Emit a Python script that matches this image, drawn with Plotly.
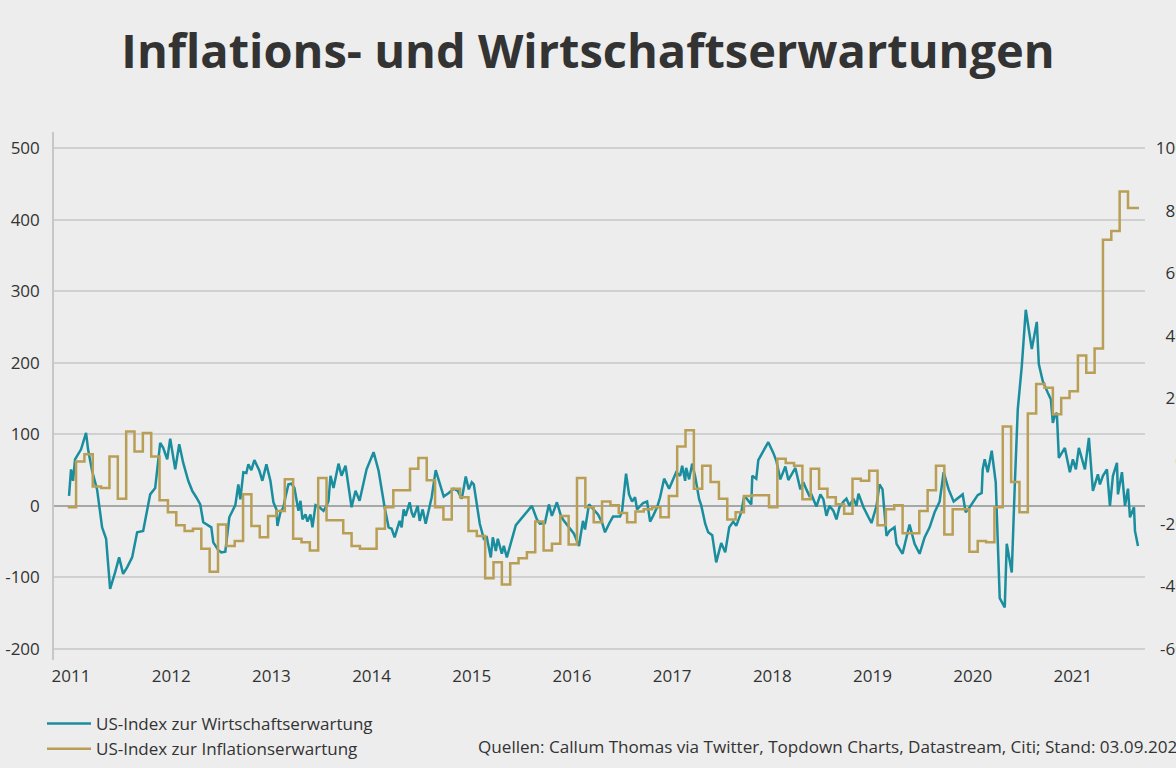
import plotly.graph_objects as go

# ---------------- data ----------------
# US-Index zur Wirtschaftserwartung (left axis), decimal years
blue_t = [2010.98, 2011.00, 2011.02, 2011.04, 2011.10, 2011.15, 2011.17, 2011.21, 2011.26, 2011.31,
          2011.35, 2011.39, 2011.44, 2011.48, 2011.52, 2011.56, 2011.61, 2011.66, 2011.72, 2011.79,
          2011.84, 2011.87, 2011.89, 2011.92, 2011.96, 2011.99, 2012.04, 2012.08, 2012.12, 2012.17,
          2012.21, 2012.25, 2012.29, 2012.32, 2012.36, 2012.40, 2012.42, 2012.47, 2012.50, 2012.54,
          2012.58, 2012.64, 2012.67, 2012.69, 2012.72, 2012.75, 2012.77, 2012.80, 2012.83, 2012.88,
          2012.91, 2012.95, 2012.99, 2013.02, 2013.05, 2013.06, 2013.09, 2013.12, 2013.14, 2013.17,
          2013.20, 2013.23, 2013.25, 2013.27, 2013.29, 2013.31, 2013.34, 2013.36, 2013.39, 2013.41,
          2013.44, 2013.48, 2013.52, 2013.55, 2013.57, 2013.59, 2013.62, 2013.67, 2013.70, 2013.74,
          2013.80, 2013.84, 2013.88, 2013.92, 2013.95, 2014.02, 2014.07, 2014.13, 2014.17, 2014.20,
          2014.23, 2014.28, 2014.30, 2014.32, 2014.34, 2014.38, 2014.40, 2014.42, 2014.46, 2014.48,
          2014.51, 2014.54, 2014.57, 2014.60, 2014.64, 2014.68, 2014.72, 2014.77, 2014.82, 2014.86,
          2014.90, 2014.92, 2014.94, 2014.97, 2015.00, 2015.02, 2015.05, 2015.08, 2015.12, 2015.15,
          2015.19, 2015.21, 2015.24, 2015.26, 2015.30, 2015.32, 2015.35, 2015.40, 2015.44, 2015.60,
          2015.65, 2015.68, 2015.73, 2015.77, 2015.80, 2015.85, 2015.89, 2015.92, 2015.97, 2016.02,
          2016.05, 2016.07, 2016.11, 2016.13, 2016.17, 2016.21, 2016.26, 2016.30, 2016.33, 2016.37,
          2016.41, 2016.48, 2016.50, 2016.54, 2016.57, 2016.60, 2016.63, 2016.65, 2016.68, 2016.71,
          2016.75, 2016.78, 2016.81, 2016.85, 2016.88, 2016.92, 2016.97, 2017.01, 2017.04, 2017.08,
          2017.10, 2017.13, 2017.14, 2017.17, 2017.20, 2017.23, 2017.27, 2017.29, 2017.33, 2017.36,
          2017.40, 2017.44, 2017.49, 2017.53, 2017.57, 2017.61, 2017.64, 2017.69, 2017.72, 2017.75,
          2017.79, 2017.80, 2017.84, 2017.86, 2017.96, 2018.01, 2018.04, 2018.08, 2018.13, 2018.16,
          2018.23, 2018.28, 2018.31, 2018.34, 2018.37, 2018.39, 2018.44, 2018.48, 2018.51, 2018.54,
          2018.57, 2018.61, 2018.64, 2018.67, 2018.71, 2018.74, 2018.77, 2018.81, 2018.84, 2018.86,
          2018.91, 2018.96, 2018.99, 2019.04, 2019.07, 2019.10, 2019.14, 2019.17, 2019.22, 2019.24,
          2019.30, 2019.37, 2019.42, 2019.47, 2019.52, 2019.57, 2019.62, 2019.67, 2019.71, 2019.76,
          2019.81, 2019.90, 2019.93, 2019.97, 2020.05, 2020.09, 2020.10, 2020.12, 2020.15, 2020.19,
          2020.23, 2020.27, 2020.32, 2020.34, 2020.39, 2020.42, 2020.45, 2020.49, 2020.53, 2020.59,
          2020.64, 2020.66, 2020.70, 2020.75, 2020.78, 2020.80, 2020.82, 2020.84, 2020.86, 2020.92,
          2020.97, 2021.00, 2021.03, 2021.06, 2021.12, 2021.16, 2021.20, 2021.25, 2021.27, 2021.30,
          2021.34, 2021.37, 2021.40, 2021.44, 2021.45, 2021.49, 2021.52, 2021.55, 2021.57, 2021.61,
          2021.62, 2021.65]
blue_v = [14, 51, 35, 65, 79, 102, 79, 49, 23, -30,
          -46, -116, -93, -72, -95, -86, -72, -37, -35, 16,
          25, 58, 88, 81, 65, 94, 51, 86, 60, 35,
          21, 12, 2, -23, -27, -30, -51, -62, -65, -64,
          -16, 1, 30, 9, 47, 46, 58, 50, 64, 49,
          35, 58, 35, 5, -5, -28, -9, -2, 12, 30,
          31, 25, 9, -7, 7, -19, -12, -22, -12, -30,
          1, -2, -7, 0, 7, 42, 25, 59, 42, 56,
          -2, 21, 7, 35, 51, 75, 49, -2, -30, -32,
          -44, -21, -30, -5, -14, 5, -9, -16, 0, -21,
          -5, -25, -7, 12, 50, 30, 13, 18, 24, 21,
          10, 25, 41, 23, 33, 30, 0, -25, -46, -44,
          -72, -44, -63, -46, -67, -56, -72, -46, -27, 0,
          -19, -25, -24, 2, -14, 5, -14, -21, -30, -39,
          -49, -56, -21, -33, 2, -4, -12, -23, -37, -25,
          -15, -15, -8, 45, 16, 6, 12, -5, 0, 4,
          6, -22, -14, -2, 12, 38, 24, 38, 47, 42,
          56, 35, 53, 37, 59, 41, 9, 1, -25, -37,
          -41, -79, -52, -65, -30, -22, -28, -9, 14, 9,
          2, 42, 38, 64, 89, 74, 63, 37, 55, 36,
          53, 23, 33, 23, 14, 16, -1, 16, 9, -14,
          0, -7, -19, -2, 6, 10, 0, 10, 0, 17,
          -2, -16, -24, 0, 30, 23, -42, -35, -30, -53,
          -67, -26, -53, -67, -44, -30, -9, 6, 47, 23,
          6, 16, -9, -2, 15, 18, 51, 65, 47, 77,
          33, -129, -142, -53, -93, 28, 135, 195, 274, 219,
          257, 198, 174, 158, 149, 116, 126, 130, 67, 81,
          47, 65, 51, 81, 51, 95, 21, 44, 30, 42,
          51, 0, 42, 60, 16, 47, 0, 24, -16, -2,
          -35, -56]

# US-Index zur Inflationserwartung (right axis), monthly values from Jan 2011
gold_v = [-14.7, -0.1, 2.2, -8.1, -8.6, 1.5, -12.0, 9.5, 3.1, 9.0,
          1.5, -12.5, -16.3, -20.5, -22.3, -21.6, -28.0, -35.3, -20.2, -27.1,
          -25.5, -10.6, -20.7, -24.3, -17.5, -15.9, -5.8, -24.8, -25.9, -28.5,
          -5.4, -18.9, -18.9, -23.0, -27.1, -28.0, -28.0, -21.6, -14.7, -9.3,
          -9.3, -2.4, 1.0, -6.1, -14.7, -18.6, -8.8, -11.5, -22.3, -23.9,
          -37.4, -32.3, -39.4, -32.6, -31.0, -29.1, -19.3, -28.5, -26.4, -17.5,
          -26.6, -5.4, -14.7, -19.5, -12.9, -14.1, -16.6, -19.5, -16.1, -15.4,
          -14.7, -17.9, -11.1, 4.7, 9.9, -8.8, -1.5, -6.7, -12.0, -18.6,
          -16.3, -11.1, -10.9, -10.9, -14.7, 0.8, -0.6, -1.5, -12.2, -2.4,
          -8.8, -11.5, -13.8, -16.8, -5.6, -6.3, -3.1, -20.5, -15.4, -14.1,
          -23.0, -23.0, -15.9, -9.3, -1.5, -23.4, -15.4, -15.4, -28.9, -25.5,
          -25.9, -14.7, 11.1, -6.7, -16.3, 15.2, 24.6, 23.4, 15.0, 20.2,
          22.3, 33.7, 28.2, 36.0, 70.7, 73.5, 86.1, 80.8]
gold_start = 2010.967
gold_end = 2021.66

years = list(range(2011, 2022))
left_ticks = [-200, -100, 0, 100, 200, 300, 400, 500]
right_ticks = [-60, -40, -20, 0, 20, 40, 60, 80, 100]

title_text = "Inflations- und Wirtschaftserwartungen"
name_blue = "US-Index zur Wirtschaftserwartung"
name_gold = "US-Index zur Inflationserwartung"
source_text = "Quellen: Callum Thomas via Twitter, Topdown Charts, Datastream, Citi; Stand: 03.09.2021"

# ---------------- figure ----------------
BG = "#ecedec"
TXT = "#333333"
FONT = "Open Sans"
FS = 17
W, H = 1176, 768
L, R, T, B = 54, 0, 132, 108
plot_right = 1145

gold_t = [gold_start + k / 12 for k in range(len(gold_v))] + [gold_end]
gold_y = gold_v + [gold_v[-1]]

fig = go.Figure()
fig.add_trace(go.Scatter(x=blue_t, y=blue_v, mode="lines", name=name_blue,
                         line=dict(color="#1a8e9f", width=2.5), yaxis="y"))
fig.add_trace(go.Scatter(x=gold_t, y=gold_y, mode="lines", name=name_gold,
                         line=dict(color="#b99e55", width=2.5, shape="hv"), yaxis="y2"))

pw = W - L - R
ph = H - T - B
fig.update_layout(
    template="none",
    width=W, height=H,
    margin=dict(l=L, r=R, t=T, b=B, pad=0, autoexpand=False),
    paper_bgcolor=BG, plot_bgcolor=BG,
    font=dict(family=FONT, size=FS, color=TXT),
    title=dict(text=title_text, x=0.5, xanchor="center", xref="container",
               y=1 - 52 / H, yanchor="middle", yref="container",
               font=dict(family=FONT, size=47, color=TXT, weight="bold")),
    xaxis=dict(domain=[0, (plot_right - L) / pw], range=[2010.83, 2021.72],
               tickvals=years, ticktext=[str(y) for y in years],
               showgrid=False, zeroline=False, showline=False, ticks="",
               ticklabelstandoff=4, automargin=False,
               tickfont=dict(family=FONT, size=FS, color=TXT)),
    yaxis=dict(range=[-215.4, 522.4], tickvals=left_ticks,
               ticktext=[str(v) for v in left_ticks],
               showgrid=True, gridcolor="#cfd0d0", gridwidth=1.6,
               zeroline=True, zerolinecolor="#a6a7a7", zerolinewidth=1.6,
               showline=True, linecolor="#c6c7c7", linewidth=1.6,
               ticks="", ticklabelstandoff=9, automargin=False,
               tickfont=dict(family=FONT, size=FS, color=TXT)),
    yaxis2=dict(range=[-63.5, 105.1], tickvals=right_ticks,
                ticktext=[str(v) for v in right_ticks], overlaying="y",
                side="right", anchor="free", position=1,
                ticklabelposition="inside", ticklabelstandoff=-12,
                showgrid=False, zeroline=False, showline=False, ticks="",
                automargin=False,
                tickfont=dict(family=FONT, size=FS, color=TXT)),
    legend=dict(xref="container", yref="container", x=42 / W, y=1 - 706 / H,
                xanchor="left", yanchor="top", orientation="v",
                bgcolor="rgba(0,0,0,0)", borderwidth=0, itemwidth=44,
                font=dict(family=FONT, size=FS, color=TXT), tracegroupgap=0),
    showlegend=True,
    annotations=[dict(text=source_text, xref="paper", yref="paper",
                      x=(476 - L) / pw, y=(T + ph - 746) / ph,
                      xanchor="left", yanchor="middle", showarrow=False,
                      font=dict(family=FONT, size=17.1, color=TXT))],
)

fig.write_html("out.html", config={"displayModeBar": False},
               post_script="document.body.style.margin='0px';")
